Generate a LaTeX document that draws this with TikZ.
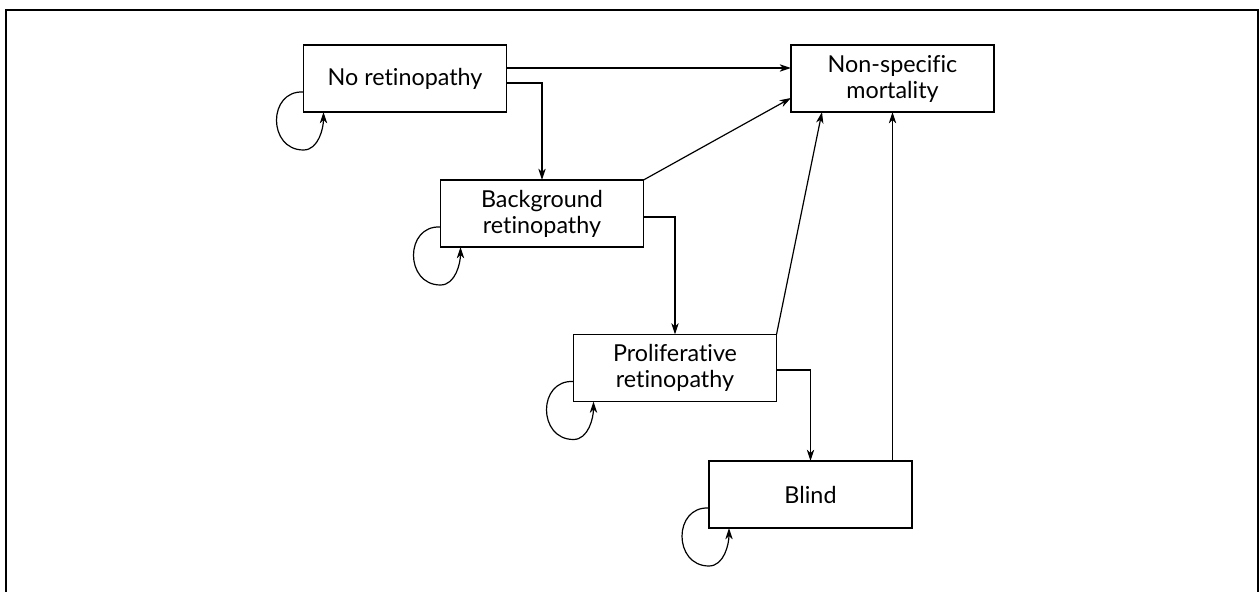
\documentclass[tikz,border=0pt]{standalone}
\usepackage{fontspec}
\setmainfont{Lato}[Ligatures=NoCommon]
\usetikzlibrary{arrows.meta,calc}
\tikzset{
  box/.style={draw, line width=1pt, minimum width=152.25pt, minimum height=50.25pt,
    inner sep=0pt, outer sep=0pt, align=center, font=\fontsize{17.5}{19.5}\selectfont},
  arr/.style={line width=0.9pt, -{Stealth[length=8.5pt,width=5.5pt,inset=2.5pt]}},
  frame/.style={line width=1.6pt}
}
\newcommand\mkloop[1]{%
  \draw[arr] ($(#1.south west)+(0,-20)$) .. controls +(-36,-2) and +(-36,0) ..
    ($(#1.south west)+(0,38)$) .. controls +(15,0) and +(0,16) ..
    ($(#1.south west)+(20,0)$);}
\begin{document}
\begin{tikzpicture}[x=0.75pt,y=-0.75pt]
\useasboundingbox (0,0) rectangle (1260,592);
\draw[frame] (6,600) -- (6,10) -- (1258,10) -- (1258,600);
\node[box] (NR) at (405,78.5) {No retinopathy};
\node[box] (BG) at (542,213.5) {Background\\retinopathy};
\node[box] (PR) at (675,368) {Proliferative\\retinopathy};
\node[box] (BL) at (810.5,494.5) {Blind};
\node[box] (NS) at (892.5,78.5) {Non-specific\\mortality};
% transitions
\draw[arr] (NR.east |- 0,68) -- (NS.west |- 0,68);
\draw[arr] (NR.east |- 0,83) -| (BG.north);
\draw[arr] (BG.north east) -- (NS.west |- 0,98);
\draw[arr] (BG.east |- 0,217) -| (PR.north);
\draw[arr] (PR.north east) -- ($(NS.south west)+(31,0)$);
\draw[arr] (PR.east |- 0,370) -| (BL.north);
\draw[arr] (BL.north -| NS.south) -- (NS.south);
% self loops
\mkloop{NR}
\mkloop{BG}
\mkloop{PR}
\mkloop{BL}
\end{tikzpicture}
\end{document}
